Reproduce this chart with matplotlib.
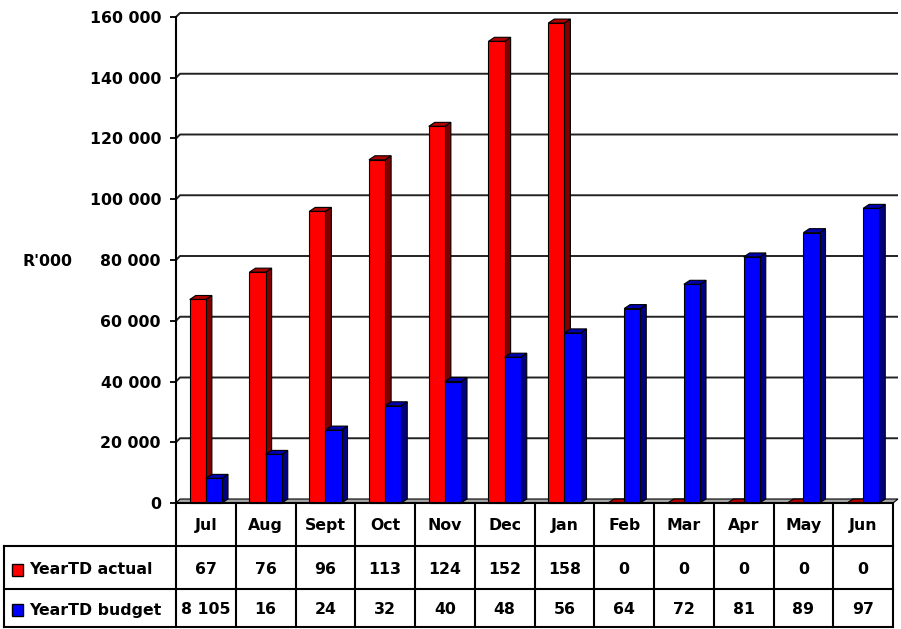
import matplotlib
matplotlib.use("Agg")
import matplotlib.pyplot as plt
from matplotlib.patches import Polygon, Rectangle
from matplotlib.ticker import FuncFormatter

months = ["Jul", "Aug", "Sept", "Oct", "Nov", "Dec", "Jan", "Feb", "Mar", "Apr", "May", "Jun"]
series_names = ["YearTD actual", "YearTD budget"]
actual = [67000, 76000, 96000, 113000, 124000, 152000, 158000, 0, 0, 0, 0, 0]
budget = [8105, 16000, 24000, 32000, 40000, 48000, 56000, 64000, 72000, 81000, 89000, 97000]
actual_labels = ["67", "76", "96", "113", "124", "152", "158", "0", "0", "0", "0", "0"]
budget_labels = ["8 105", "16", "24", "32", "40", "48", "56", "64", "72", "81", "89", "97"]
y_ticks = [0, 20000, 40000, 60000, 80000, 100000, 120000, 140000, 160000]

FONT = "DejaVu Sans"
FS = 11.3
W, H = 901, 629
fig = plt.figure(figsize=(W / 100, H / 100), dpi=100)

# plot area in pixels
left_px, right_px, top_px, bot_px = 176, 893, 17, 503
ax = fig.add_axes([left_px / W, (H - bot_px) / H, (right_px - left_px) / W, (bot_px - top_px) / H])
n = len(months)
ymax = 160000
ax.set_xlim(-0.5, n - 0.5)
ax.set_ylim(0, ymax)

col_px = (right_px - left_px) / n
py = (bot_px - top_px) / ymax
def dx(px):
    return px / col_px
def dy(px):
    return px / py

# back wall gridlines and floor
wall_dx, wall_dy = dx(4), dy(4)
for v in y_ticks[1:]:
    ax.plot([-0.5, -0.5 + wall_dx, n - 0.5 + dx(5)], [v, v + wall_dy, v + wall_dy],
            color="#222222", lw=1.4, clip_on=False, zorder=1, solid_capstyle="butt")
ax.add_patch(Polygon([(-0.5, 0), (n - 0.5, 0), (n - 0.5 + dx(5), wall_dy), (-0.5 + wall_dx, wall_dy)],
                     closed=True, facecolor="#A6A6A6", edgecolor="black", lw=0.8,
                     clip_on=False, zorder=2))

bar_w = 0.27
bar_dx, bar_dy = dx(6), dy(4)

def draw_bar(x0, h, front, top, side):
    x1 = x0 + bar_w
    kw = dict(edgecolor="black", lw=0.8, clip_on=False, zorder=3, joinstyle="miter")
    ax.add_patch(Polygon([(x1, 0), (x1 + bar_dx, bar_dy), (x1 + bar_dx, h + bar_dy), (x1, h)],
                         closed=True, facecolor=side, **kw))
    ax.add_patch(Polygon([(x0, h), (x1, h), (x1 + bar_dx, h + bar_dy), (x0 + bar_dx, h + bar_dy)],
                         closed=True, facecolor=top, **kw))
    ax.add_patch(Rectangle((x0, 0), bar_w, h, facecolor=front, **kw))

red = ("#FF0000", "#B00000", "#800000")
blue = ("#0000FF", "#0000B0", "#000080")
for i in range(n):
    draw_bar(i - bar_w, actual[i], *red)
    draw_bar(i, budget[i], *blue)

# axes styling
for s in ["top", "right", "bottom"]:
    ax.spines[s].set_visible(False)
ax.spines["left"].set_linewidth(1.5)
ax.set_xticks([])
ax.set_yticks(y_ticks)
ax.yaxis.set_major_formatter(FuncFormatter(lambda v, p: f"{int(v):,}".replace(",", " ")))
ax.tick_params(axis="y", length=4.3, width=1.3, pad=6.5, labelsize=FS)
for lab in ax.get_yticklabels():
    lab.set_fontweight("bold")
    lab.set_fontfamily(FONT)
fig.text(47 / W, 1 - 262 / H, "R'000", ha="center", va="center",
         fontsize=FS, fontweight="bold", family=FONT)

# data table under the plot, drawn in pixel coordinates
tab = fig.add_axes([0, 0, 1, 1])
tab.set_xlim(0, W)
tab.set_ylim(H, 0)
tab.axis("off")
row_y = [503, 546, 589, 627]
label_left = 4
edges = [left_px + col_px * k for k in range(n + 1)]
lkw = dict(color="black", lw=1.5, solid_capstyle="projecting")
tab.plot([left_px, right_px], [bot_px, bot_px], **lkw)
for yv in row_y[1:]:
    tab.plot([label_left, right_px], [yv, yv], **lkw)
tab.plot([label_left, label_left], [row_y[1], row_y[3]], **lkw)
for xe in edges:
    tab.plot([xe, xe], [row_y[0], row_y[3]], **lkw)

tkw = dict(ha="center", va="center", fontsize=FS, fontweight="bold", family=FONT)
for i in range(n):
    cx = (edges[i] + edges[i + 1]) / 2
    tab.text(cx, (row_y[0] + row_y[1]) / 2 + 1, months[i], **tkw)
    tab.text(cx, (row_y[1] + row_y[2]) / 2 + 2, actual_labels[i], **tkw)
    tab.text(cx, (row_y[2] + row_y[3]) / 2 + 2, budget_labels[i], **tkw)

for r, (name, color) in enumerate(zip(series_names, [red[0], blue[0]])):
    yc = (row_y[r + 1] + row_y[r + 2]) / 2 + 2
    tab.add_patch(Rectangle((12, yc - 6), 11, 12, facecolor=color, edgecolor="black", lw=1.0))
    tab.text(29, yc, name, ha="left", va="center", fontsize=FS, fontweight="bold", family=FONT)

fig.savefig("out.png", dpi=100)
